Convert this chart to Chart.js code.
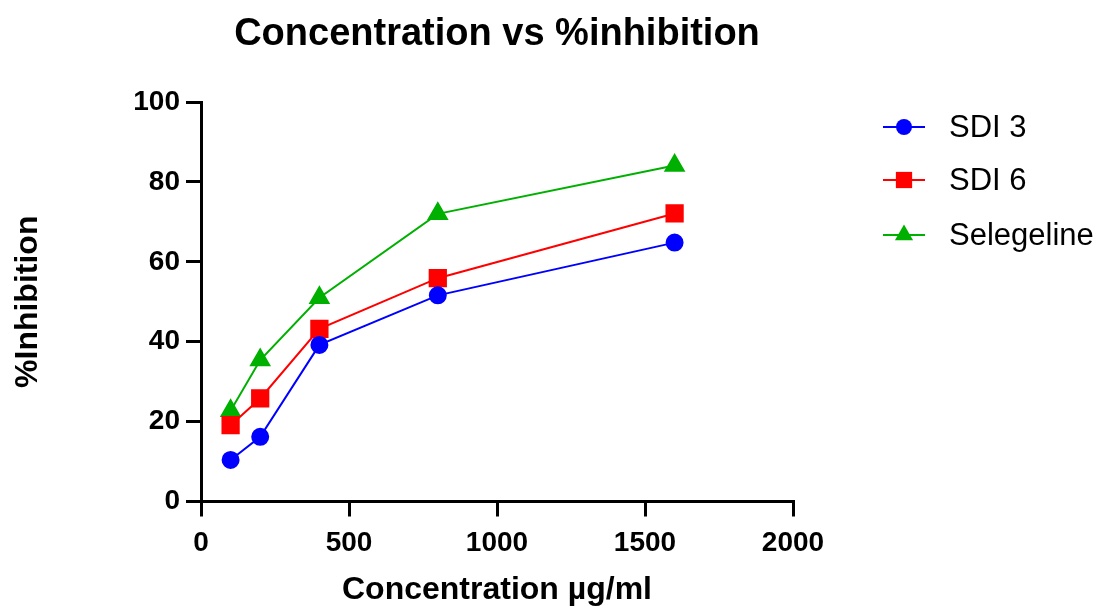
<!DOCTYPE html>
<html lang="en">
<head>
<meta charset="UTF-8">
<title>Concentration vs %inhibition</title>
<script src="https://cdn.jsdelivr.net/npm/chart.js"></script>
<style>
  * { margin: 0; padding: 0; box-sizing: border-box; }
  body { background: #fff; width: 1098px; height: 609px; overflow: hidden; }
</style>
</head>
<body>
<canvas id="chart" width="1098" height="609"></canvas>
<script>
// data
const concentrations = [100, 200, 400, 800, 1600];
const sdi3 = [10.4, 16.2, 39.2, 51.6, 64.8];
const sdi6 = [19.1, 25.8, 43.2, 55.9, 72.1];
const selegeline = [22.7, 35.4, 51.0, 72.0, 84.1];
const xTicks = [0, 500, 1000, 1500, 2000];
const yTicks = [0, 20, 40, 60, 80, 100];

const FONT = "'Liberation Sans', Arial, sans-serif";
const toPoints = (ys) => concentrations.map((x, i) => ({ x: x, y: ys[i] }));

// legend drawn by hand: line + marker like the Prism export
const sideLegend = {
  id: 'sideLegend',
  afterDraw(chart) {
    const ctx = chart.ctx;
    const rows = [127, 180, 235];
    chart.data.datasets.forEach((ds, i) => {
      const y = rows[i];
      ctx.save();
      ctx.strokeStyle = ds.borderColor;
      ctx.lineWidth = 2;
      ctx.beginPath();
      ctx.moveTo(883, y);
      ctx.lineTo(925, y);
      ctx.stroke();
      ctx.fillStyle = ds.backgroundColor;
      const r = ds.pointRadius;
      const cx = 904;
      ctx.beginPath();
      if (ds.pointStyle === 'circle') {
        ctx.arc(cx, y, r, 0, Math.PI * 2);
      } else if (ds.pointStyle === 'rect') {
        const s = r * Math.SQRT1_2;
        ctx.rect(cx - s, y - s, 2 * s, 2 * s);
      } else {
        ctx.moveTo(cx, y - r);
        ctx.lineTo(cx + r * 0.866, y + r / 2);
        ctx.lineTo(cx - r * 0.866, y + r / 2);
        ctx.closePath();
      }
      ctx.fill();
      ctx.fillStyle = '#000';
      ctx.font = '31px ' + FONT;
      ctx.textBaseline = 'middle';
      ctx.textAlign = 'left';
      ctx.fillText(ds.label, 949, y + 1);
      ctx.restore();
    });
  }
};

new Chart(document.getElementById('chart'), {
  type: 'line',
  data: {
    datasets: [
      {
        label: 'SDI 3',
        data: toPoints(sdi3),
        borderColor: '#0000FF',
        backgroundColor: '#0000FF',
        pointStyle: 'circle',
        pointRadius: 8,
        borderWidth: 2
      },
      {
        label: 'SDI 6',
        data: toPoints(sdi6),
        borderColor: '#FF0000',
        backgroundColor: '#FF0000',
        pointStyle: 'rect',
        pointRadius: 11.5,
        borderWidth: 2
      },
      {
        label: 'Selegeline',
        data: toPoints(selegeline),
        borderColor: '#00B000',
        backgroundColor: '#00B000',
        pointStyle: 'triangle',
        pointRadius: 10.5,
        borderWidth: 2
      }
    ]
  },
  options: {
    responsive: false,
    devicePixelRatio: 1,
    animation: false,
    layout: { padding: { left: 0, right: 305, top: 0, bottom: 0 } },
    elements: { point: { borderWidth: 0, hoverRadius: 0 }, line: { tension: 0 } },
    plugins: {
      legend: { display: false },
      tooltip: { enabled: false },
      title: {
        display: true,
        text: 'Concentration vs %inhibition',
        fullSize: false,
        color: '#000',
        font: { family: FONT, size: 38, weight: 'bold' },
        padding: { top: 12, bottom: 44.4 }
      }
    },
    scales: {
      x: {
        type: 'linear',
        min: 0,
        max: 2000,
        afterFit: (s) => { s.height = 107.5; },
        afterBuildTicks: (s) => { s.ticks = xTicks.map(v => ({ value: v })); },
        border: { display: true, color: '#000', width: 3 },
        grid: { drawOnChartArea: false, drawTicks: true, tickLength: 15, color: '#000', lineWidth: 3 },
        ticks: {
          color: '#000',
          padding: 10,
          maxRotation: 0,
          font: { family: FONT, size: 28, weight: 'bold' },
          callback: (v) => String(v)
        },
        title: {
          display: true,
          text: 'Concentration µg/ml',
          color: '#000',
          font: { family: FONT, size: 32, weight: 'bold' },
          padding: { top: 0, bottom: 0 }
        }
      },
      y: {
        min: 0,
        max: 100,
        afterFit: (s) => { s.width = 201; },
        afterBuildTicks: (s) => { s.ticks = yTicks.map(v => ({ value: v })); },
        border: { display: true, color: '#000', width: 3 },
        grid: { drawOnChartArea: false, drawTicks: true, tickLength: 15, color: '#000', lineWidth: 3 },
        ticks: { color: '#000', padding: 6, font: { family: FONT, size: 28, weight: 'bold' }, callback: (v) => String(v) },
        title: {
          display: true,
          text: '%Inhibition',
          color: '#000',
          font: { family: FONT, size: 32, weight: 'bold' },
          padding: { top: 9, bottom: 0 }
        }
      }
    }
  },
  plugins: [sideLegend]
});
</script>
</body>
</html>
